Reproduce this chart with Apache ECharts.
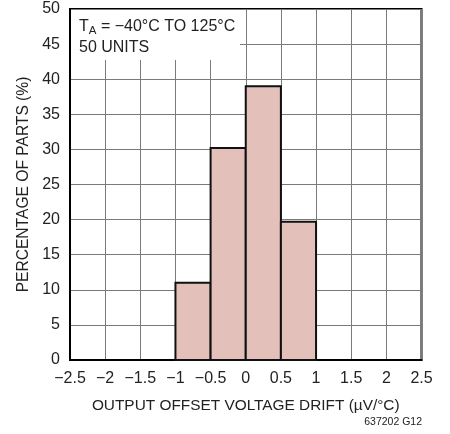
<!DOCTYPE html>
<html>
<head>
<meta charset="utf-8">
<script src="https://cdn.jsdelivr.net/npm/echarts@6/dist/echarts.min.js"></script>
<style>html,body{margin:0;padding:0;background:#fff}#c{width:450px;height:434px}</style>
</head>
<body>
<div id="c"></div>
<script>
var binStart = [-1, -0.5, 0, 0.5];
var binEnd = [-0.5, 0, 0.5, 1];
var percent = [11, 30.2, 39, 19.7];
var xTitle = 'OUTPUT OFFSET VOLTAGE DRIFT (\u00B5V/\u00B0C)';
var yTitle = 'PERCENTAGE OF PARTS (%)';
var noteLine2 = '50 UNITS';
var figId = '637202 G12';

var FONT = '"Liberation Sans", Arial, sans-serif';
var data = binStart.map(function (s, i) { return [s, binEnd[i], percent[i]]; });

var chart = echarts.init(document.getElementById('c'));
chart.setOption({
  animation: false,
  backgroundColor: '#fff',
  grid: { left: 70, right: 28.5, top: 9, bottom: 74, show: true, borderColor: '#000', borderWidth: 2, backgroundColor: 'transparent' },
  xAxis: {
    type: 'value', min: -2.5, max: 2.5, interval: 0.5,
    name: xTitle, nameLocation: 'middle', nameGap: 38,
    nameTextStyle: { fontFamily: FONT, fontSize: 15.4, color: '#222' },
    axisLine: { show: true, onZero: false, lineStyle: { color: '#000', width: 2 } },
    axisTick: { show: false },
    axisLabel: { fontFamily: FONT, fontSize: 16, color: '#222', margin: 11,
      formatter: function (v) { return String(v).replace('-', '\u2212'); } },
    splitLine: { show: true, lineStyle: { color: '#7a7a7a', width: 1 } }
  },
  yAxis: {
    type: 'value', min: 0, max: 50, interval: 5,
    name: yTitle, nameLocation: 'middle', nameGap: 37, nameRotate: 90,
    nameTextStyle: { fontFamily: FONT, fontSize: 15.6, color: '#222' },
    axisLine: { show: true, onZero: false, lineStyle: { color: '#000', width: 2 } },
    axisTick: { show: false },
    axisLabel: { fontFamily: FONT, fontSize: 16, color: '#222', margin: 10 },
    splitLine: { show: true, lineStyle: { color: '#7a7a7a', width: 1 } }
  },
  graphic: [
    { type: 'rect', z: 5, shape: { x: 71, y: 10, width: 169, height: 50 }, style: { fill: '#fff' } },
    { type: 'text', z: 6, left: 79, top: 19, style: {
        text: 'T{sub|A} = \u221240\u00B0C TO 125\u00B0C',
        fontFamily: FONT, fontSize: 16, fill: '#222',
        rich: { sub: { fontFamily: FONT, fontSize: 11.5, verticalAlign: 'bottom', padding: [8, 0, 0, 0] } }
      } },
    { type: 'text', z: 6, left: 79, top: 40, style: { text: noteLine2, fontFamily: FONT, fontSize: 16, fill: '#222' } },
    { type: 'text', z: 6, right: 28, top: 417, style: { text: figId, fontFamily: FONT, fontSize: 10.5, fill: '#222' } }
  ],
  series: [{
    type: 'custom',
    data: data,
    encode: { x: [0, 1], y: 2 },
    renderItem: function (params, api) {
      var p0 = api.coord([api.value(0), api.value(2)]);
      var p1 = api.coord([api.value(1), 0]);
      return {
        type: 'rect',
        shape: { x: p0[0], y: p0[1], width: p1[0] - p0[0], height: p1[1] - p0[1] },
        style: { fill: '#e3c1ba', stroke: '#111', lineWidth: 2 }
      };
    }
  }]
});
</script>
</body>
</html>
